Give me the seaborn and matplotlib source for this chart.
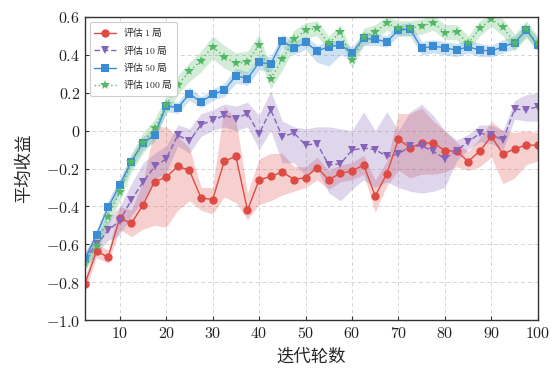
import numpy as np
import pandas as pd
import matplotlib
matplotlib.use("Agg")
import matplotlib.pyplot as plt
import seaborn as sns

# ---------------- data ----------------
iters = [2.5, 5, 7.5, 10, 12.5, 15, 17.5, 20, 22.5, 25, 27.5, 30, 32.5, 35, 37.5, 40,
         42.5, 45, 47.5, 50, 52.5, 55, 57.5, 60, 62.5, 65, 67.5, 70, 72.5, 75, 77.5, 80,
         82.5, 85, 87.5, 90, 92.5, 95, 97.5, 100]

series_names = ["评估 $1$ 局", "评估 $10$ 局", "评估 $50$ 局", "评估 $100$ 局"]

r1_mean = [-0.81, -0.636, -0.668, -0.461, -0.49, -0.392, -0.269, -0.246, -0.188, -0.21,
           -0.355, -0.364, -0.161, -0.136, -0.42, -0.26, -0.242, -0.218, -0.258, -0.248,
           -0.195, -0.26, -0.224, -0.214, -0.18, -0.345, -0.227, -0.046, -0.09, -0.067,
           -0.064, -0.106, -0.108, -0.163, -0.108, -0.03, -0.124, -0.096, -0.076, -0.078]
r1_lo = [-0.85, -0.67, -0.70, -0.52, -0.56, -0.52, -0.50, -0.51, -0.42, -0.37,
         -0.42, -0.44, -0.35, -0.38, -0.47, -0.39, -0.37, -0.34, -0.32, -0.30,
         -0.26, -0.31, -0.27, -0.26, -0.23, -0.43, -0.29, -0.21, -0.25, -0.23,
         -0.23, -0.22, -0.19, -0.21, -0.19, -0.14, -0.28, -0.25, -0.18, -0.16]
r1_hi = [-0.77, -0.60, -0.63, -0.40, -0.42, -0.27, 0.02, 0.02, -0.03, -0.09,
         -0.30, -0.30, 0.13, 0.06, -0.33, -0.15, -0.12, -0.12, -0.19, -0.19,
         -0.14, -0.21, -0.18, -0.17, -0.13, -0.26, -0.16, 0.09, 0.09, 0.12,
         0.05, 0.0, -0.06, -0.11, -0.04, 0.05, 0.0, -0.01, 0.0, -0.01]

r10_mean = [-0.68, -0.60, -0.527, -0.475, -0.366, -0.272, -0.189, -0.149, -0.024, -0.055,
            0.031, 0.054, 0.081, 0.063, 0.09, -0.018, 0.11, -0.033, -0.012, -0.076,
            -0.069, -0.182, -0.175, -0.103, -0.092, -0.1, -0.136, -0.124, -0.082, -0.08,
            -0.11, -0.149, -0.105, -0.059, -0.015, -0.021, -0.05, 0.113, 0.111, 0.126]
r10_lo = [-0.72, -0.65, -0.58, -0.55, -0.45, -0.37, -0.26, -0.22, -0.08, -0.12,
          -0.03, 0.0, 0.02, 0.0, 0.02, -0.10, 0.0, -0.17, -0.17, -0.24,
          -0.20, -0.33, -0.37, -0.31, -0.26, -0.30, -0.27, -0.30, -0.32, -0.33,
          -0.32, -0.30, -0.16, -0.10, -0.06, -0.07, -0.10, 0.06, 0.05, 0.05]
r10_hi = [-0.64, -0.55, -0.47, -0.40, -0.28, -0.17, -0.12, -0.08, 0.03, 0.01,
          0.09, 0.11, 0.14, 0.13, 0.15, 0.08, 0.21, 0.05, 0.02, 0.01,
          0.02, 0.02, 0.01, 0.0, 0.10, 0.0, 0.10, 0.0, 0.10, 0.14,
          0.08, 0.0, -0.05, -0.02, 0.03, 0.03, 0.0, 0.16, 0.19, 0.20]

r50_mean = [-0.68, -0.55, -0.405, -0.286, -0.163, -0.064, -0.024, 0.132, 0.12, 0.195,
            0.151, 0.192, 0.213, 0.29, 0.275, 0.36, 0.351, 0.474, 0.434, 0.466,
            0.42, 0.443, 0.452, 0.411, 0.487, 0.482, 0.469, 0.531, 0.536, 0.434,
            0.446, 0.437, 0.425, 0.443, 0.425, 0.42, 0.443, 0.464, 0.531, 0.452]
r50_lo = [-0.71, -0.58, -0.44, -0.32, -0.20, -0.10, -0.06, 0.10, 0.09, 0.16,
          0.12, 0.16, 0.18, 0.25, 0.24, 0.32, 0.31, 0.44, 0.40, 0.43,
          0.36, 0.34, 0.40, 0.38, 0.45, 0.45, 0.44, 0.50, 0.50, 0.40,
          0.41, 0.40, 0.39, 0.41, 0.39, 0.39, 0.41, 0.43, 0.50, 0.42]
r50_hi = [-0.65, -0.52, -0.37, -0.25, -0.13, -0.03, 0.01, 0.16, 0.15, 0.23,
          0.18, 0.22, 0.25, 0.33, 0.31, 0.40, 0.39, 0.51, 0.47, 0.50,
          0.45, 0.47, 0.48, 0.44, 0.52, 0.51, 0.50, 0.56, 0.57, 0.47,
          0.48, 0.47, 0.46, 0.48, 0.46, 0.45, 0.48, 0.50, 0.56, 0.49]

r100_mean = [-0.70, -0.61, -0.458, -0.325, -0.167, -0.064, 0.015, 0.134, 0.24, 0.313,
             0.37, 0.443, 0.39, 0.355, 0.363, 0.452, 0.275, 0.376, 0.482, 0.53,
             0.54, 0.46, 0.522, 0.372, 0.496, 0.522, 0.567, 0.54, 0.54, 0.552,
             0.57, 0.517, 0.522, 0.46, 0.54, 0.588, 0.545, 0.464, 0.535, 0.46]
r100_lo = [-0.74, -0.65, -0.50, -0.37, -0.22, -0.12, -0.04, 0.09, 0.19, 0.26,
           0.31, 0.38, 0.33, 0.30, 0.30, 0.39, 0.22, 0.32, 0.43, 0.49,
           0.50, 0.42, 0.48, 0.33, 0.45, 0.48, 0.53, 0.50, 0.50, 0.51,
           0.53, 0.48, 0.48, 0.42, 0.50, 0.55, 0.50, 0.42, 0.49, 0.42]
r100_hi = [-0.66, -0.57, -0.42, -0.28, -0.12, -0.01, 0.06, 0.18, 0.29, 0.36,
           0.42, 0.50, 0.45, 0.41, 0.42, 0.51, 0.33, 0.43, 0.53, 0.57,
           0.58, 0.50, 0.56, 0.41, 0.54, 0.56, 0.60, 0.58, 0.58, 0.59,
           0.61, 0.56, 0.56, 0.50, 0.58, 0.62, 0.59, 0.51, 0.58, 0.50]

x_ticks = [10, 20, 30, 40, 50, 60, 70, 80, 90, 100]
y_ticks = [0.6, 0.4, 0.2, 0, -0.2, -0.4, -0.6, -0.8, -1.0]
y_tick_labels = ["0.6", "0.4", "0.2", "0", "-0.2", "-0.4", "-0.6", "-0.8", "-1.0"]

# ---------------- style ----------------
sns.set_style("ticks")
plt.rcParams["font.family"] = ["Noto Sans CJK SC", "DejaVu Sans"]
plt.rcParams["mathtext.fontset"] = "cm"
plt.rcParams["axes.unicode_minus"] = True

colors = ["#de4a44", "#8463b8", "#3b8cd2", "#52b865"]
markers = ["o", "v", "s", "*"]
dashes = ["", (4, 2), "", (1, 2)]
msizes = [6, 6, 6, 7]

means = [r1_mean, r10_mean, r50_mean, r100_mean]
los = [r1_lo, r10_lo, r50_lo, r100_lo]
his = [r1_hi, r10_hi, r50_hi, r100_hi]

frames = []
for name, m, lo, hi in zip(series_names, means, los, his):
    frames.append(pd.DataFrame({"iter": iters, "ret": m, "lo": lo, "hi": hi, "series": name}))
df = pd.concat(frames, ignore_index=True)

fig = plt.figure(figsize=(5.55, 3.77), dpi=100)
ax = fig.add_axes([0.153, 0.151, 0.816, 0.804])

# bands
for name, c in zip(series_names, colors):
    sub = df[df["series"] == name]
    ax.fill_between(sub["iter"], sub["lo"], sub["hi"], color=c, alpha=0.26, linewidth=0)

# lines through seaborn
for name, c, mk, ds, ms in zip(series_names, colors, markers, dashes, msizes):
    sub = df[df["series"] == name]
    sns.lineplot(data=sub, x="iter", y="ret", ax=ax, color=c, marker=mk,
                 markersize=ms, markeredgewidth=0, linewidth=1.0, label=name,
                 errorbar=None)
    line = ax.get_lines()[-1]
    if ds != "":
        line.set_dashes(ds)

ax.set_xlim(2.5, 100)
ax.set_ylim(-1.0, 0.6)
ax.set_xticks(x_ticks)
ax.set_xticklabels([f"${t}$" for t in x_ticks])
ax.set_yticks(y_ticks)
ax.set_yticklabels([f"${l}$" for l in y_tick_labels])
ax.tick_params(direction="in", length=3, width=0.8, labelsize=11.5, colors="#333333",
               labelcolor="#222222")
ax.grid(True, linestyle=(0, (4, 3)), color="#d5d5d5", linewidth=0.7)
for sp in ax.spines.values():
    sp.set_color("#333333")
    sp.set_linewidth(1.0)
    sp.set_visible(True)

ax.set_xlabel("迭代轮数", fontsize=12.5, labelpad=4)
ax.set_ylabel("平均收益", fontsize=12.5, labelpad=9)

leg = ax.legend(loc="upper left", fontsize=7, frameon=True, fancybox=True,
                edgecolor="#cccccc", framealpha=1.0, handlelength=2.2,
                borderpad=0.45, labelspacing=0.45, bbox_to_anchor=(0.0, 1.0))
leg.get_frame().set_linewidth(0.8)

fig.savefig("out.png", dpi=100)
